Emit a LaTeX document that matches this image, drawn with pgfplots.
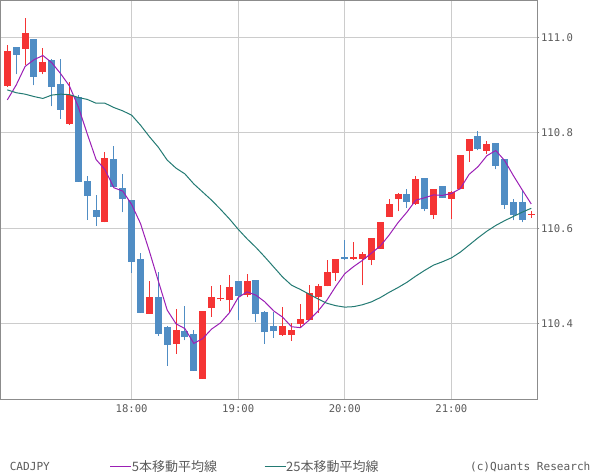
\documentclass[border=0pt]{standalone}
\usepackage{pgfplots}
\pgfplotsset{compat=1.18}
\usepackage{pgfplotstable}
\usepackage{fontspec}
\setmonofont{DejaVu Sans Mono}
\newfontfamily\cjk{Noto Sans CJK JP}
\definecolor{upc}{HTML}{F53434}
\definecolor{dnc}{HTML}{508DC4}
\definecolor{ma5c}{HTML}{9B1FB5}
\definecolor{ma25c}{HTML}{237A73}
\definecolor{framec}{HTML}{8C8C8C}
\definecolor{gridc}{HTML}{CCCCCC}
\definecolor{txtc}{HTML}{5A5A5A}

% up (red) candles: index open high low close
\pgfplotstableread{
i o h l c
0 110.898 110.984 110.897 110.971
2 110.976 111.041 110.942 111.009
4 110.927 110.978 110.923 110.948
7 110.819 110.906 110.817 110.880
11 110.613 110.760 110.613 110.747
16 110.421 110.490 110.421 110.456
19 110.358 110.431 110.337 110.387
22 110.285 110.427 110.285 110.427
23 110.434 110.479 110.415 110.456
24 110.451 110.481 110.448 110.454
25 110.449 110.502 110.423 110.477
27 110.460 110.504 110.456 110.490
31 110.377 110.435 110.375 110.395
32 110.377 110.401 110.365 110.387
33 110.400 110.442 110.391 110.410
34 110.408 110.481 110.408 110.464
35 110.457 110.483 110.423 110.479
36 110.479 110.534 110.479 110.508
37 110.506 110.536 110.490 110.536
39 110.536 110.571 110.534 110.540
40 110.536 110.550 110.481 110.546
41 110.534 110.580 110.523 110.580
42 110.557 110.613 110.557 110.613
43 110.624 110.661 110.624 110.651
44 110.661 110.674 110.636 110.672
46 110.650 110.710 110.649 110.703
48 110.628 110.682 110.620 110.682
50 110.661 110.678 110.620 110.676
51 110.682 110.754 110.682 110.754
52 110.762 110.787 110.739 110.787
54 110.762 110.783 110.756 110.777
59 110.628 110.636 110.622 110.630
}\upcandles

% down (blue) candles
\pgfplotstableread{
i o h l c
1 110.980 110.980 110.923 110.963
3 110.997 110.997 110.900 110.917
5 110.952 110.954 110.856 110.896
6 110.902 110.955 110.830 110.848
8 110.876 110.879 110.698 110.698
9 110.699 110.710 110.618 110.668
10 110.638 110.670 110.605 110.624
12 110.745 110.772 110.687 110.687
13 110.684 110.714 110.634 110.662
14 110.659 110.659 110.507 110.530
15 110.536 110.549 110.423 110.423
17 110.456 110.509 110.375 110.379
18 110.393 110.396 110.312 110.356
20 110.385 110.437 110.366 110.372
21 110.379 110.387 110.302 110.302
26 110.490 110.490 110.407 110.459
28 110.492 110.492 110.404 110.421
29 110.425 110.427 110.358 110.382
30 110.395 110.425 110.371 110.384
38 110.541 110.576 110.534 110.536
45 110.672 110.682 110.643 110.655
47 110.705 110.705 110.636 110.640
49 110.689 110.689 110.664 110.664
53 110.793 110.804 110.764 110.766
55 110.779 110.779 110.724 110.731
56 110.745 110.745 110.641 110.649
57 110.655 110.661 110.617 110.628
58 110.655 110.680 110.613 110.617
}\downcandles

% moving averages
\pgfplotstableread{
i ma5 ma25
0 110.869 110.890
1 110.900 110.884
2 110.939 110.881
3 110.953 110.876
4 110.962 110.872
5 110.947 110.879
6 110.924 110.881
7 110.898 110.880
8 110.854 110.874
9 110.798 110.870
10 110.744 110.862
11 110.723 110.862
12 110.685 110.853
13 110.678 110.846
14 110.650 110.837
15 110.610 110.816
16 110.552 110.792
17 110.490 110.770
18 110.429 110.743
19 110.400 110.726
20 110.390 110.714
21 110.359 110.693
22 110.369 110.676
23 110.389 110.659
24 110.402 110.640
25 110.423 110.620
26 110.455 110.598
27 110.467 110.578
28 110.460 110.560
29 110.446 110.540
30 110.427 110.519
31 110.414 110.498
32 110.394 110.481
33 110.392 110.472
34 110.408 110.462
35 110.427 110.452
36 110.450 110.443
37 110.479 110.438
38 110.505 110.435
39 110.520 110.436
40 110.533 110.440
41 110.548 110.446
42 110.563 110.455
43 110.586 110.466
44 110.612 110.476
45 110.634 110.487
46 110.659 110.500
47 110.664 110.512
48 110.670 110.523
49 110.669 110.530
50 110.673 110.538
51 110.683 110.550
52 110.713 110.565
53 110.729 110.580
54 110.752 110.594
55 110.763 110.606
56 110.742 110.616
57 110.710 110.625
58 110.680 110.634
59 110.651 110.642
}\matable

\pgfplotsset{
  candle/.style={only marks, mark=*, mark size=0pt,
    mark options={draw=none, fill=none}, forget plot,
    error bars/.cd, y dir=plus, y explicit, error mark=none,
    error bar style={draw=#1}},
}

\begin{document}
\begin{tikzpicture}
\useasboundingbox (0pt,0pt) rectangle (600pt,475pt);
\begin{axis}[
  at={(1pt,76pt)}, anchor=south west,
  scale only axis, width=536.3pt, height=398.5pt,
  xmin=-0.71, xmax=59.68, ymin=110.2426, ymax=111.0771,
  axis line style={framec, line width=1pt},
  grid=major, major grid style={gridc, line width=1pt},
  xtick={14,26,38,50}, xticklabels={18:00,19:00,20:00,21:00},
  ytick={110.4,110.6,110.8,111.0}, yticklabels={110.4,110.6,110.8,111.0},
  ytick pos=right, yticklabel pos=right, xtick pos=bottom,
  tick align=outside, major tick length=2pt,
  xtick style={draw=none}, ytick style={framec, line width=1pt},
  tick label style={font=\ttfamily\fontsize{10.6}{12}\selectfont, text=txtc},
  xticklabel style={anchor=north, inner sep=0pt, yshift=-3pt},
  yticklabel style={anchor=west, inner sep=0pt, xshift=1.5pt},
  /pgf/number format/assume math mode=true,
  legend columns=2,
  legend image code/.code={\draw[#1] (0pt,0pt) -- (21pt,0pt);},
  legend style={at={(0.2032,-0.1699)}, anchor=west, draw=none, fill=none,
    inner sep=0pt, outer sep=0pt,
    font=\cjk\fontsize{13}{14}\selectfont, text=txtc,
    nodes={inner sep=0pt},
    /tikz/every even column/.append style={column sep=47pt}},
  legend cell align=left,
]
% wicks
\addplot[candle=upc, error bar style={line width=1pt}]
  table[x=i, y=l, y error plus expr=\thisrow{h}-\thisrow{l}] {\upcandles};
\addplot[candle=dnc, error bar style={line width=1pt}]
  table[x=i, y=l, y error plus expr=\thisrow{h}-\thisrow{l}] {\downcandles};
% bodies
\addplot[candle=upc, error bar style={line width=7pt}]
  table[x=i, y=o, y error plus expr=\thisrow{c}-\thisrow{o}] {\upcandles};
\addplot[candle=dnc, error bar style={line width=7pt}]
  table[x=i, y=c, y error plus expr=\thisrow{o}-\thisrow{c}] {\downcandles};
% moving averages
\addplot[ma5c, line width=1pt, mark=none] table[x=i, y=ma5] {\matable};
\addlegendentry{5本移動平均線}
\addplot[ma25c, line width=1pt, mark=none] table[x=i, y=ma25] {\matable};
\addlegendentry{25本移動平均線}
\end{axis}
\node[anchor=west, inner sep=0pt, font=\ttfamily\fontsize{11.1}{12}\selectfont, text=txtc] at (9.6pt,8.3pt) {CADJPY};
\node[anchor=east, inner sep=0pt, font=\ttfamily\fontsize{11.1}{12}\selectfont, text=txtc] at (590.6pt,8.3pt) {(c)Quants Research};
\end{tikzpicture}
\end{document}
